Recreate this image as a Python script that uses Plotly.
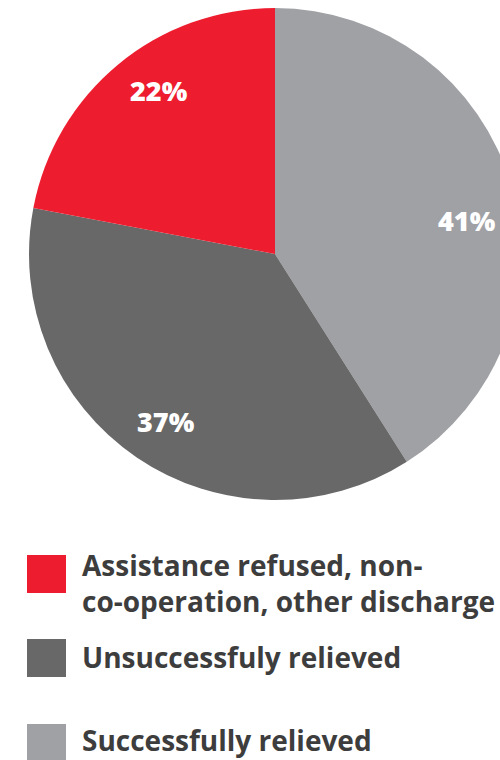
import plotly.graph_objects as go

# Outcome shares, in percent
categories = ["Successfully relieved", "Unsuccessfuly relieved",
              "Assistance refused, non-<br>co-operation, other discharge"]
values = [41, 37, 22]
colors = ["#A0A1A5", "#686868", "#ED1C2E"]

# Legend order (top to bottom) as indices into the lists above
legend_order = [2, 1, 0]

W, H = 550, 760
cx, cy, r = 275, 254, 246  # pie centre and radius in pixels


def px(x):
    return x / W


def py(y):
    return 1 - y / H


fig = go.Figure()
fig.add_trace(go.Pie(
    labels=categories,
    values=values,
    marker=dict(colors=colors, line=dict(width=0)),
    sort=False,
    direction="clockwise",
    rotation=0,
    textinfo="none",
    hoverinfo="label+percent",
    showlegend=False,
    domain=dict(x=[px(cx - r), px(cx + r)], y=[py(cy + r), py(cy - r)]),
))

# Percentage labels placed inside each slice
label_pos = {0: (467, 221), 1: (166, 421), 2: (159, 91)}
annotations = []
for i, v in enumerate(values):
    x, y = label_pos[i]
    annotations.append(dict(
        x=px(x), y=py(y), xref="paper", yref="paper",
        text=f"{v}%", showarrow=False,
        font=dict(family="Open Sans", size=27, color="white", weight=800),
        xanchor="center", yanchor="middle",
    ))

# Custom legend: coloured squares with labels (baseline of first line)
shapes = []
rows = [(555, 575), (639, 667), (724, 750)]  # square top, first baseline
for (top, base), idx in zip(rows, legend_order):
    shapes.append(dict(
        type="rect", xref="paper", yref="paper",
        x0=px(27), x1=px(66), y0=py(top + 38), y1=py(top),
        fillcolor=colors[idx], line=dict(width=0),
    ))
    annotations.append(dict(
        x=px(80), y=py(base - 31), xref="paper", yref="paper",
        text=categories[idx], showarrow=False, align="left",
        font=dict(family="Open Sans", size=28, color="#3D3D3D", weight=700),
        xanchor="left", yanchor="top",
    ))

fig.update_layout(
    width=W, height=H,
    margin=dict(l=0, r=0, t=0, b=0),
    paper_bgcolor="white",
    plot_bgcolor="white",
    shapes=shapes,
    annotations=annotations,
)

fig.write_html(
    "out.html",
    post_script="document.body.style.margin='0';document.body.style.overflow='hidden';",
)
